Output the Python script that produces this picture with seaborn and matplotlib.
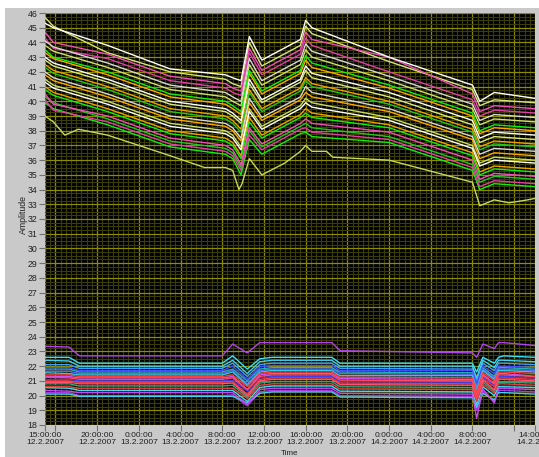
import pandas as pd
import matplotlib
matplotlib.use('Agg')
import matplotlib.pyplot as plt
from matplotlib.patches import Rectangle
from matplotlib.ticker import FixedLocator, MultipleLocator, FuncFormatter
import seaborn as sns

START = pd.Timestamp('2007-02-12 15:00')

UP_HOURS = [0, 0.8, 6, 12, 17.3, 18.0, 18.8, 19.6, 20.8, 24.5, 25.0, 25.6, 33, 41.0, 41.7, 43.1, 47]
LOW_HOURS = [0, 2.3, 3.3, 17.0, 18.0, 19.4, 20.6, 21.8, 27.5, 28.3, 41.0, 41.4, 42.0, 43.1, 43.5, 44.0, 47]
BOTTOM_HOURS = [0, 0.8, 1.9, 3.2, 6, 12, 15.3, 17.3, 18.0, 18.6, 18.9, 19.6, 20.8, 23, 24.5, 25.0,
                25.6, 27.0, 27.6, 33, 41.0, 41.7, 43.1, 44.5, 46.3, 47]

# upper bundle (≈34..46)
white_up = [
    [45.3, 45.0, 43.8, 42.2, 41.8, 41.6, 41.4, 44.4, 42.8, 44.2, 45.5, 45.0, 43.0, 41.1, 40.0, 40.6, 40.2],
    [44.1, 43.7, 42.6, 41.1, 40.6, 40.3, 40.0, 42.9, 41.4, 42.8, 43.9, 43.4, 41.7, 39.8, 38.7, 39.1, 38.9],
    [43.0, 42.6, 41.5, 40.0, 39.5, 39.2, 38.7, 41.5, 40.1, 41.5, 42.4, 41.9, 40.6, 38.7, 37.5, 37.9, 37.7],
    [42.0, 41.6, 40.5, 39.0, 38.5, 38.2, 37.5, 40.2, 38.9, 40.3, 41.0, 40.6, 39.5, 37.6, 36.4, 36.8, 36.6],
    [41.3, 40.9, 39.8, 38.3, 37.8, 37.5, 36.7, 39.3, 38.1, 39.5, 39.9, 39.6, 38.7, 36.8, 35.6, 36.0, 35.8],
]
pale_up = [
    [45.7, 45.1, 43.3, 42.0, 41.5, 41.2, 41.0, 44.0, 42.4, 43.8, 45.1, 44.6, 42.7, 40.8, 39.7, 40.1, 39.9],
    [43.8, 43.4, 42.3, 40.8, 40.3, 40.0, 39.7, 42.5, 41.1, 42.5, 43.5, 43.0, 41.4, 39.5, 38.4, 38.8, 38.6],
    [42.8, 42.4, 41.3, 39.8, 39.3, 39.0, 38.5, 41.2, 39.9, 41.3, 42.1, 41.6, 40.3, 38.4, 37.2, 37.6, 37.4],
    [41.5, 41.1, 40.0, 38.5, 38.0, 37.7, 36.9, 39.5, 38.3, 39.7, 40.2, 39.9, 38.9, 37.0, 35.8, 36.2, 36.0],
]
bottom_up = [39.0, 38.6, 37.7, 38.1, 37.7, 36.3, 35.5, 35.5, 35.3, 34.0, 34.4, 36.1, 35.0, 35.8, 36.6, 37.0,
             36.6, 36.6, 36.2, 36.0, 34.5, 32.9, 33.3, 33.1, 33.3, 33.4]
pink_up = [
    [44.7, 44.0, 43.2, 41.7, 41.2, 40.9, 40.7, 43.6, 42.1, 43.5, 44.7, 44.2, 43.0, 40.5, 39.3, 39.7, 39.5],
    [44.3, 43.6, 42.9, 41.4, 40.9, 40.6, 40.4, 43.3, 41.8, 43.2, 44.3, 43.8, 42.0, 40.1, 39.0, 39.4, 39.2],
    [40.5, 39.8, 39.0, 37.5, 37.0, 36.7, 35.7, 38.2, 37.1, 38.5, 38.8, 38.5, 37.9, 36.0, 34.7, 35.1, 34.9],
    [40.1, 39.4, 38.6, 37.1, 36.6, 36.3, 35.3, 37.7, 36.7, 38.1, 38.2, 37.9, 37.4, 35.5, 34.2, 34.6, 34.4],
]
green_up = [
    [43.5, 43.0, 42.0, 40.5, 40.0, 39.7, 39.3, 42.1, 40.7, 42.1, 43.1, 42.6, 41.1, 39.2, 38.0, 38.4, 38.2],
    [42.3, 41.9, 40.8, 39.3, 38.8, 38.5, 37.9, 40.6, 39.3, 40.7, 41.4, 41.0, 39.8, 37.9, 36.7, 37.1, 36.9],
    [40.8, 40.4, 39.3, 37.8, 37.3, 37.0, 36.1, 38.6, 37.5, 38.9, 39.2, 38.9, 38.2, 36.3, 35.0, 35.4, 35.2],
    [40.3, 39.9, 38.8, 37.3, 36.8, 36.5, 35.5, 38.0, 36.9, 38.3, 38.5, 38.2, 37.6, 35.7, 34.5, 34.9, 34.7],
    [39.9, 39.5, 38.4, 36.9, 36.4, 36.1, 35.0, 37.4, 36.4, 37.8, 37.9, 37.6, 37.2, 35.3, 34.0, 34.4, 34.2],
]
orange_up = [
    [43.3, 42.9, 41.8, 40.3, 39.8, 39.5, 39.1, 41.9, 40.5, 41.9, 42.8, 42.3, 40.9, 39.0, 37.8, 38.2, 38.0],
    [42.5, 42.1, 41.0, 39.5, 39.0, 38.7, 38.1, 40.8, 39.5, 40.9, 41.6, 41.2, 40.0, 38.1, 36.9, 37.3, 37.1],
    [41.8, 41.4, 40.3, 38.8, 38.3, 38.0, 37.3, 39.9, 38.7, 40.1, 40.6, 40.3, 39.3, 37.4, 36.1, 36.5, 36.3],
    [41.0, 40.6, 39.5, 38.0, 37.5, 37.2, 36.3, 38.9, 37.7, 39.1, 39.5, 39.2, 38.4, 36.5, 35.2, 35.6, 35.4],
]

# lower bundle (≈18.5..24)
violet_lo = [
    [23.35, 23.3, 22.7, 22.7, 23.5, 22.9, 23.6, 23.6, 23.6, 23.05, 22.9, 22.6, 23.5, 23.2, 23.6, 23.6, 23.4],
    [20.2, 20.2, 20.0, 20.0, 20.05, 19.3, 20.25, 20.35, 20.35, 20.0, 19.95, 19.0, 20.3, 19.6, 20.35, 20.35, 20.25],
]
cyan_lo = [
    [22.6, 22.6, 22.2, 22.2, 22.7, 21.8, 22.5, 22.6, 22.6, 22.2, 22.2, 21.6, 22.6, 22.2, 22.6, 22.7, 22.6],
    [22.4, 22.35, 22.0, 22.0, 22.4, 21.5, 22.3, 22.4, 22.4, 22.0, 22.0, 21.2, 22.4, 21.9, 22.4, 22.4, 22.3],
    [21.55, 21.5, 21.4, 21.4, 21.6, 20.7, 21.6, 21.7, 21.7, 21.35, 21.35, 20.3, 21.7, 21.1, 21.7, 21.7, 21.6],
    [20.55, 20.5, 20.35, 20.35, 20.35, 19.6, 20.55, 20.65, 20.65, 20.3, 20.25, 19.4, 20.6, 20.0, 20.6, 20.6, 20.55],
    [20.1, 20.1, 19.95, 19.95, 19.95, 19.5, 20.15, 20.25, 20.25, 19.9, 19.85, 19.2, 20.15, 19.7, 20.2, 20.2, 20.1],
]
blue_lo = [
    [22.1, 22.1, 21.85, 21.85, 22.2, 21.3, 22.1, 22.2, 22.2, 21.85, 21.8, 21.0, 22.2, 21.7, 22.2, 22.2, 22.1],
    [21.9, 21.9, 21.7, 21.7, 22.0, 21.1, 21.95, 22.05, 22.05, 21.7, 21.7, 20.8, 22.0, 21.5, 22.0, 22.0, 21.9],
    [21.65, 21.65, 21.5, 21.5, 21.7, 20.8, 21.7, 21.8, 21.8, 21.5, 21.45, 20.4, 21.8, 21.2, 21.8, 21.8, 21.7],
    [21.1, 21.1, 21.0, 21.0, 21.05, 20.3, 21.2, 21.3, 21.3, 20.95, 20.9, 19.9, 21.25, 20.7, 21.3, 21.3, 21.2],
]
teal_lo = [
    [21.8, 21.8, 21.6, 21.6, 21.8, 21.0, 21.8, 21.9, 21.9, 21.6, 21.55, 20.6, 21.9, 21.3, 21.9, 21.9, 21.8],
    [20.8, 20.8, 20.65, 20.65, 20.7, 19.9, 20.85, 20.95, 20.95, 20.6, 20.55, 19.7, 20.9, 20.3, 20.9, 20.9, 20.85],
]
red_lo = [
    [21.4, 21.4, 21.3, 21.3, 21.4, 20.6, 21.5, 21.6, 21.6, 21.25, 21.2, 20.2, 21.55, 21.0, 21.6, 21.6, 21.5],
    [21.25, 21.2, 21.1, 21.1, 21.2, 20.4, 21.3, 21.4, 21.4, 21.05, 21.0, 20.0, 21.35, 20.8, 21.4, 21.4, 21.3],
    [21.0, 21.0, 20.9, 20.9, 20.95, 20.1, 21.1, 21.2, 21.2, 20.85, 20.8, 19.8, 21.15, 20.6, 21.2, 21.2, 21.1],
    [20.9, 20.9, 20.8, 20.8, 20.85, 20.0, 21.0, 21.1, 21.1, 20.75, 20.7, 19.6, 21.05, 20.4, 21.1, 21.1, 21.0],
    [20.6, 20.6, 20.5, 20.5, 20.5, 19.8, 20.7, 20.8, 20.8, 20.45, 20.4, 19.6, 20.75, 20.2, 20.8, 20.8, 20.7],
]
magenta_lo = [
    [21.3, 21.3, 21.2, 21.2, 21.3, 20.4, 21.4, 21.5, 21.5, 21.15, 21.1, 19.9, 21.45, 20.8, 21.5, 21.5, 21.3],
    [20.35, 20.3, 20.2, 20.2, 20.2, 19.4, 20.4, 20.5, 20.5, 20.15, 20.1, 18.45, 20.45, 19.5, 20.5, 20.5, 20.4],
]

groups = [
    ('violet_lo', LOW_HOURS, violet_lo, ['#b044f0', '#a040e0']),
    ('teal_lo', LOW_HOURS, teal_lo, ['#20b4b4', '#30a878']),
    ('blue_lo', LOW_HOURS, blue_lo, ['#40a0ff', '#4a4cff', '#5a6aff', '#3c3cf0']),
    ('cyan_lo', LOW_HOURS, cyan_lo, ['#38e0f8', '#40d0f0', '#30c8e8']),
    ('magenta_lo', LOW_HOURS, magenta_lo, ['#d050f8', '#c848f0']),
    ('red_lo', LOW_HOURS, red_lo, ['#ff3c3c', '#ff4a60', '#f03848', '#ff5070', '#e84040']),
    ('bottom_up', BOTTOM_HOURS, [bottom_up], ['#c4d860']),
    ('pale_up', UP_HOURS, pale_up, ['#d6e47c', '#cfe070', '#d8e888', '#c8dc68']),
    ('orange_up', UP_HOURS, orange_up, ['#ffa800', '#f0a000']),
    ('green_up', UP_HOURS, green_up, ['#10f010', '#20c820']),
    ('pink_up', UP_HOURS, pink_up, ['#f050b8', '#e040a8']),
    ('white_up', UP_HOURS, white_up, ['#ffffff', '#d8d8d8']),
]

rows = []
palette = {}
for name, hours, lines, colors in groups:
    for i, vals in enumerate(lines):
        key = f'{name}_{i}'
        palette[key] = colors[i % len(colors)]
        for h, v in zip(hours, vals):
            rows.append({'hours': h, 'value': v, 'trace': key})
df = pd.DataFrame(rows)

plt.rcParams['font.family'] = ['Liberation Sans', 'DejaVu Sans']

fig = plt.figure(figsize=(5.39, 4.57), dpi=100, facecolor='white')
fig.add_artist(Rectangle((5 / 539, 0), 1, 449 / 457, transform=fig.transFigure,
                         facecolor='#c9c9c9', edgecolor='none', zorder=-10))
ax = fig.add_axes([45 / 539, 32 / 457, 490 / 539, 412 / 457])
ax.set_facecolor('black')

sns.lineplot(data=df, x='hours', y='value', hue='trace', palette=palette,
             hue_order=list(palette.keys()), estimator=None, sort=False,
             legend=False, linewidth=1.0, ax=ax)

ax.set_xlim(0, 47)
ax.set_ylim(18, 46)

xticks = [0, 1, 5, 9, 13, 17, 21, 25, 29, 33, 37, 41, 45, 47]


def time_label(x, pos):
    if x in (1, 45):
        return ''
    t = START + pd.Timedelta(hours=x)
    return f'{t.hour}:{t.minute:02d}:{t.second:02d}\n{t.day}.{t.month}.{t.year}'


ax.xaxis.set_major_locator(FixedLocator(xticks))
ax.xaxis.set_major_formatter(FuncFormatter(time_label))
ax.xaxis.set_minor_locator(MultipleLocator(0.5))
ax.yaxis.set_major_locator(MultipleLocator(1))
ax.yaxis.set_minor_locator(MultipleLocator(0.25))
ax.yaxis.set_major_formatter(FuncFormatter(lambda v, p: f'{int(round(v))}'))

ax.set_axisbelow(True)
ax.grid(which='major', color='#8c8c00', linewidth=0.9)
ax.grid(which='minor', color='#3c3c06', linewidth=0.8)

ax.tick_params(which='major', direction='out', length=4, width=0.8, color='#707070',
               labelsize=6.3, labelcolor='#202020', pad=1.5)
ax.tick_params(axis='x', which='major', labelsize=6.1, pad=1)
ax.tick_params(which='minor', length=0)
for s in ax.spines.values():
    s.set_visible(False)

ax.set_xlabel('')
ax.set_ylabel('')
fig.text(23 / 539, 1 - 215 / 457, 'Amplitude', rotation=90, ha='center', va='center',
         fontsize=6.3, color='#202020')
fig.text(290 / 539, 0, 'Time', ha='center', va='bottom', fontsize=5.8, color='#202020')

fig.canvas.draw()
for lbl in ax.get_xticklabels():
    lbl.set_linespacing(0.95)

fig.savefig('out.png', dpi=100, facecolor=fig.get_facecolor())
